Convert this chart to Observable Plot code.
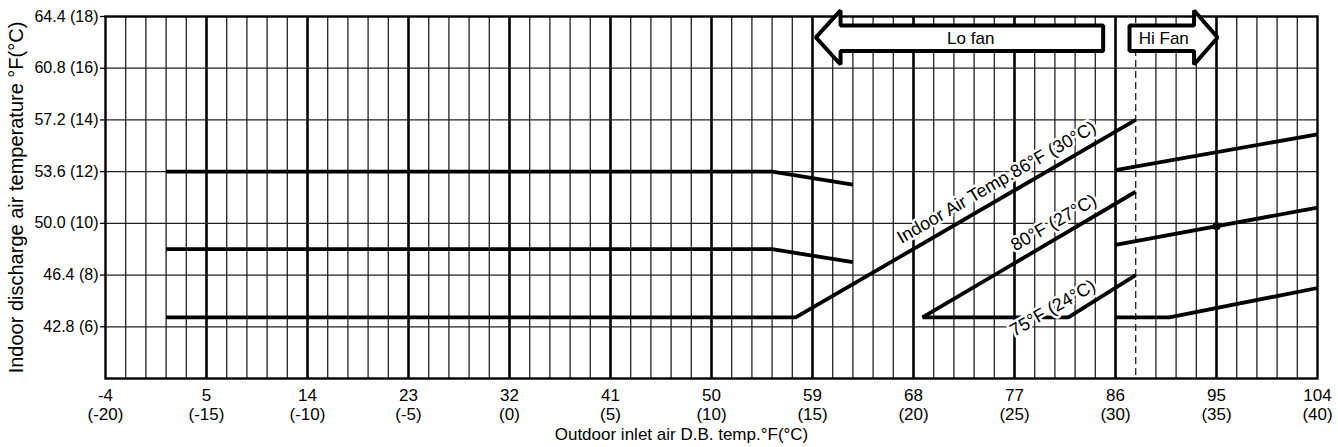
<!DOCTYPE html>
<html><head><meta charset="utf-8">
<script src="https://cdn.jsdelivr.net/npm/d3@7"></script>
<script src="https://cdn.jsdelivr.net/npm/@observablehq/plot@0.6"></script>
<style>body{margin:0;background:#fff}</style>
</head><body><div id="chart"></div>
<script>
// ---- tick labels ----
const xTicksF = [-4, 5, 14, 23, 32, 41, 50, 59, 68, 77, 86, 95, 104];
const xTicksC = [-20, -15, -10, -5, 0, 5, 10, 15, 20, 25, 30, 35, 40];
const yTicksF = ["42.8", "46.4", "50.0", "53.6", "57.2", "60.8", "64.4"];
const yTicksC = [6, 8, 10, 12, 14, 16, 18];
const dashedGridC = 31;

// ---- curves (x: outdoor °F, y: discharge °F) ----
const upperX = [1.4, 55.4, 62.6],  upperY = [53.6, 53.6, 52.7];
const middleX = [1.4, 55.4, 62.6], middleY = [48.2, 48.2, 47.3];
const lo86X = [1.4, 57.5, 87.8],   lo86Y = [43.45, 43.45, 57.2];
const lo80X = [68.8, 87.8],        lo80Y = [43.45, 52.2];
const lo75X = [68.8, 81.8, 87.8],  lo75Y = [43.45, 43.45, 46.4];
const hi86X = [86, 104],           hi86Y = [53.7, 56.2];
const hi80X = [86, 104],           hi80Y = [48.5, 51.1];
const hi75X = [86, 90.8, 104],     hi75Y = [43.45, 43.45, 45.5];
const ratedX = [95], ratedY = [49.8];

// ---- annotations ----
const curveLabelText = ["Indoor Air Temp.86°F (30°C)", "80°F (27°C)", "75°F (24°C)"];
const curveLabelX = [75.4, 80.5, 80.4];
const curveLabelY = [52.85, 50.05, 44.1];
const loArrowX = [59.3, 61.5, 61.5, 84.9, 84.9, 61.5, 61.5];
const hiArrowX = [95.1, 93.0, 93.0, 87.25, 87.25, 93.0, 93.0];
const arrowY   = [62.94, 64.82, 63.77, 63.77, 62.0, 62.0, 61.06];
const fanText = ["Lo fan", "Hi Fan"];
const fanX = [73.1, 90.3];
const fanY = [62.85, 62.85];

const toF = c => c * 1.8 + 32;
const allC = d3.range(-19, 40);
const minorF = allC.filter(c => c % 5 !== 0 && c !== dashedGridC).map(toF);
const majorF = allC.filter(c => c % 5 === 0).map(toF);

const series = [
  ["upper", upperX, upperY], ["middle", middleX, middleY],
  ["lo86", lo86X, lo86Y], ["lo80", lo80X, lo80Y], ["lo75", lo75X, lo75Y],
  ["hi86", hi86X, hi86Y], ["hi80", hi80X, hi80Y], ["hi75", hi75X, hi75Y]
];
const rows = series.flatMap(([s, xs, ys]) => xs.map((x, i) => ({s, x, y: ys[i]})));
const labels = curveLabelText.map((t, i) => ({t, x: curveLabelX[i], y: curveLabelY[i]}));
const loArrow = loArrowX.map((x, i) => ({x, y: arrowY[i]}));
const hiArrow = hiArrowX.map((x, i) => ({x, y: arrowY[i]}));
const fans = fanText.map((t, i) => ({t, x: fanX[i], y: fanY[i]}));
const xTicks = xTicksF.map((f, i) => ({f, label: `${f}\n(${xTicksC[i]})`}));
const yVals = yTicksF.map(Number);
const yLabel = new Map(yVals.map((v, i) => [v, `${yTicksF[i]} (${yTicksC[i]})`]));

const chart = Plot.plot({
  width: 1338, height: 447,
  marginLeft: 105, marginRight: 21, marginTop: 16, marginBottom: 69,
  style: {fontFamily: "'Liberation Sans', Arial, sans-serif", fontSize: "16px", background: "#fff", overflow: "visible"},
  x: {domain: [-4, 104], axis: null},
  y: {domain: [39.2, 64.4]},
  marks: [
    Plot.ruleX(minorF, {stroke: "#222", strokeWidth: 1.3}),
    Plot.ruleX(majorF, {stroke: "#000", strokeWidth: 2.6}),
    Plot.ruleX([toF(dashedGridC)], {stroke: "#222", strokeWidth: 1.3, strokeDasharray: "7,4"}),
    Plot.ruleY(yVals.slice(0, -1), {stroke: "#222", strokeWidth: 1.3}),
    Plot.frame({stroke: "#000", strokeWidth: 2.4}),
    Plot.axisY(yVals, {tickSize: 5, tickPadding: 2, tickFormat: d => yLabel.get(d), label: null, fontSize: 16, strokeWidth: 1.3}),
    Plot.line(rows, {x: "x", y: "y", z: "s", stroke: "#000", strokeWidth: 3.8, strokeLinecap: "butt", strokeLinejoin: "miter"}),
    Plot.dot(ratedX.map((x, i) => ({x, y: ratedY[i]})), {x: "x", y: "y", r: 4, fill: "#000"}),
    Plot.text(labels, {x: "x", y: "y", text: "t", rotate: -30, fontSize: 18, fill: "#000", stroke: "#fff", strokeWidth: 5}),
    Plot.line(loArrow, {x: "x", y: "y", curve: "linear-closed", fill: "#fff", stroke: "#000", strokeWidth: 4, strokeLinejoin: "miter"}),
    Plot.line(hiArrow, {x: "x", y: "y", curve: "linear-closed", fill: "#fff", stroke: "#000", strokeWidth: 4, strokeLinejoin: "miter"}),
    Plot.text(fans, {x: "x", y: "y", text: "t", fontSize: 17}),
    Plot.text(xTicks, {x: "f", text: "label", frameAnchor: "bottom", lineAnchor: "top", dy: 9, fontSize: 17, lineHeight: 1.12}),
    Plot.text(["Outdoor inlet air D.B. temp.°F(°C)"], {frameAnchor: "bottom", dx: -30, dy: 61, fontSize: 17}),
    Plot.text(["Indoor discharge air temperature °F(°C)"], {frameAnchor: "left", textAnchor: "middle", rotate: -90, dx: -89, fontSize: 20})
  ]
});
document.getElementById("chart").appendChild(chart);
</script>
</body></html>
